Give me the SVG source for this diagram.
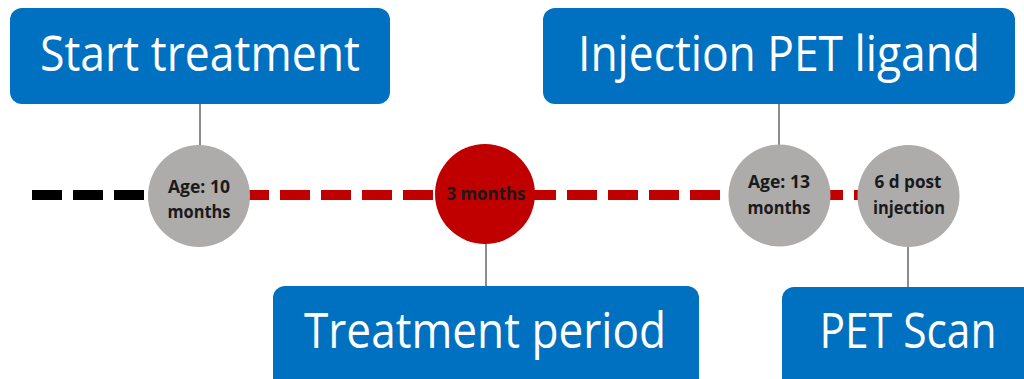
<svg xmlns="http://www.w3.org/2000/svg" width="1024" height="379" viewBox="0 0 1024 379">
<style>
.box{fill:#0070C0}
.bt{fill:#ffffff;font-family:"Open Sans","Liberation Sans",sans-serif;font-size:49px;text-anchor:middle}
.dot{fill:#AEABAB}
.red{fill:#C00000}
.ct{fill:#1a1a1a;font-family:"Open Sans","Liberation Sans",sans-serif;font-size:17px;font-weight:bold;text-anchor:middle}
.conn{stroke:#404040;stroke-width:1.2;fill:none}
</style>
<rect width="1024" height="379" fill="#ffffff"/>
<g id="connectors">
<line x1="32" y1="195" x2="145" y2="195" stroke="#000000" stroke-width="10" stroke-dasharray="30 11"/>
<line x1="239" y1="195" x2="862" y2="195" stroke="#C00000" stroke-width="10" stroke-dasharray="30 11"/>
<line class="conn" x1="200" y1="104" x2="200" y2="146"/>
<line class="conn" x1="486" y1="244" x2="486" y2="287"/>
<line class="conn" x1="779" y1="104" x2="779" y2="146"/>
<line class="conn" x1="908" y1="245" x2="908" y2="288"/>
</g>
<g id="start-treatment">
<rect class="box" x="10" y="8" width="380" height="96" rx="12"/>
<text class="bt" x="200" y="71" textLength="320" lengthAdjust="spacingAndGlyphs">Start treatment</text>
</g>
<g id="injection-pet-ligand">
<rect class="box" x="543" y="8" width="472" height="96" rx="12"/>
<text class="bt" x="779" y="71" textLength="402" lengthAdjust="spacingAndGlyphs">Injection PET ligand</text>
</g>
<g id="treatment-period">
<rect class="box" x="273" y="286" width="426" height="110" rx="12"/>
<text class="bt" x="485" y="348" textLength="362" lengthAdjust="spacingAndGlyphs">Treatment period</text>
</g>
<g id="pet-scan">
<rect class="box" x="782" y="287" width="260" height="110" rx="12"/>
<text class="bt" x="908" y="348" textLength="177" lengthAdjust="spacingAndGlyphs">PET Scan</text>
</g>
<g id="age-10">
<circle class="dot" cx="199" cy="196" r="51"/>
<text class="ct" x="199" y="193" textLength="62" lengthAdjust="spacingAndGlyphs">Age: 10</text>
<text class="ct" x="199" y="218" textLength="63" lengthAdjust="spacingAndGlyphs">months</text>
</g>
<g id="three-months">
<circle class="red" cx="485" cy="194" r="50"/>
<text class="ct" x="486" y="200" textLength="79" lengthAdjust="spacingAndGlyphs">3 months</text>
</g>
<g id="age-13">
<circle class="dot" cx="779.5" cy="195.5" r="51"/>
<text class="ct" x="779" y="188" textLength="62" lengthAdjust="spacingAndGlyphs">Age: 13</text>
<text class="ct" x="779" y="214" textLength="63" lengthAdjust="spacingAndGlyphs">months</text>
</g>
<g id="six-d-post">
<circle class="dot" cx="908.5" cy="196" r="51"/>
<text class="ct" x="908" y="188" textLength="67" lengthAdjust="spacingAndGlyphs">6 d post</text>
<text class="ct" x="909" y="214" textLength="72" lengthAdjust="spacingAndGlyphs">injection</text>
</g>
</svg>
